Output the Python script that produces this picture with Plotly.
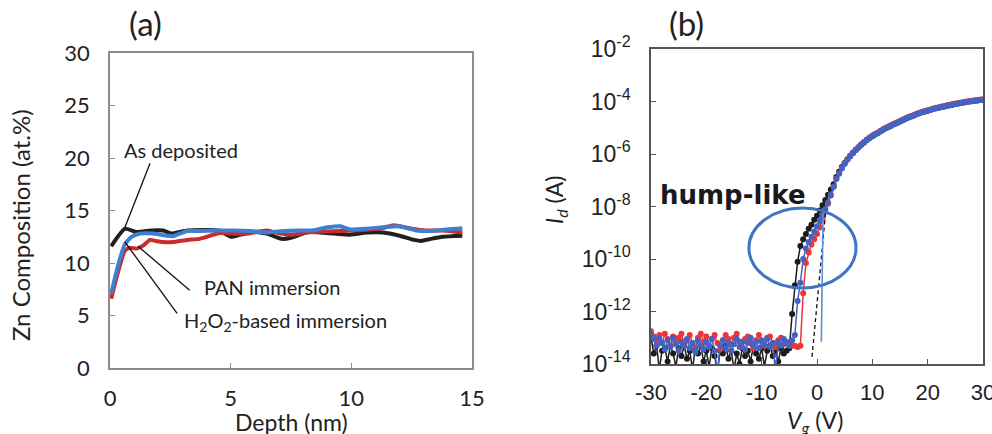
import numpy as np
import plotly.graph_objects as go

# ---------------- (a) Zn depth profile ----------------
depth_as_dep = [0.05, 0.62, 1.1, 1.7, 2.2, 2.55, 3.2, 4.0, 4.5, 5.0, 5.4, 5.95, 6.5,
                7.1, 7.5, 8.2, 9.3, 9.95, 10.65, 11.3, 12.0, 12.6, 12.9, 13.3, 13.8, 14.6]
zn_as_dep = [11.6, 13.27, 12.95, 13.1, 13.1, 12.8, 13.1, 13.15, 13.1, 12.5, 12.7, 12.95, 12.8,
             12.3, 12.4, 12.95, 12.8, 12.7, 12.9, 12.9, 12.6, 12.2, 12.1, 12.3, 12.5, 12.6]

depth_pan = [0.05, 0.28, 0.62, 0.83, 1.1, 1.4, 1.66, 1.9, 2.2, 2.6, 3.2, 3.7, 4.15, 4.55, 5.1,
             5.7, 6.5, 7.05, 7.5, 8.2, 9.0, 10.0, 10.65, 11.3, 11.75, 12.0, 12.45, 13.1, 13.8, 14.6]
zn_pan = [6.6, 8.7, 11.2, 11.46, 11.37, 11.7, 12.2, 12.1, 12.0, 12.0, 12.2, 12.3, 12.6, 12.85, 12.8,
          12.8, 13.1, 12.8, 12.7, 12.9, 13.0, 13.1, 13.17, 13.33, 13.6, 13.5, 13.3, 13.1, 13.1, 12.9]

depth_h2o2 = [0.05, 0.35, 0.62, 0.9, 1.25, 1.8, 2.35, 2.6, 3.2, 3.7, 4.4, 5.1, 5.8, 6.5,
              7.2, 7.9, 8.4, 9.0, 9.55, 9.95, 10.65, 11.3, 12.0, 12.7, 13.3, 13.95, 14.6]
zn_h2o2 = [7.1, 9.9, 11.8, 12.5, 12.8, 12.8, 12.6, 12.55, 13.05, 13.05, 13.1, 13.1, 13.05, 12.9,
           13.05, 13.1, 13.1, 13.4, 13.5, 13.2, 13.27, 13.4, 13.5, 13.1, 13.05, 13.2, 13.3]

# ---------------- (b) transfer curves ----------------
# gate sweep, 0.5 V step from -30 V to +30 V
vg = np.arange(-30.0, 30.0 + 0.25, 0.5)

# log10(Id) in the off state, -30 V ... -5.5 V
off_black = [-13.0, -13.6, -13.3, -14.2, -13.5, -13.4, -13.9, -13.3, -13.6, -14.1,
             -13.4, -13.7, -13.3, -13.8, -13.5, -14.2, -13.4, -13.6, -13.3, -13.9,
             -13.5, -14.1, -13.4, -13.7, -14.3, -13.5, -13.6, -13.3, -13.8, -13.5,
             -14.2, -13.6, -14.0, -13.4, -13.7, -13.5, -13.9, -13.3, -13.6, -13.8,
             -13.4, -14.1, -13.5, -13.3, -13.7, -13.5, -13.9, -13.4, -13.6, -13.5]
off_red = [-12.75, -12.95, -13.1, -12.9, -13.2, -12.85, -13.05, -13.3, -12.95, -13.15,
           -13.0, -12.85, -13.25, -13.1, -12.9, -13.2, -13.4, -13.0, -12.85, -13.15,
           -12.95, -13.3, -13.05, -12.9, -13.2, -13.45, -13.1, -12.9, -13.05, -13.25,
           -13.0, -12.85, -13.15, -13.35, -13.05, -12.95, -13.2, -13.4, -13.1, -12.9,
           -13.15, -13.3, -13.0, -12.95, -13.2, -13.35, -13.1, -13.0, -13.25, -13.15]
off_blue = [-12.85, -13.05, -13.3, -13.0, -13.2, -13.45, -13.1, -13.35, -13.0, -13.25,
            -13.5, -13.15, -13.3, -13.05, -13.4, -13.2, -13.55, -13.1, -13.3, -13.45,
            -13.15, -13.35, -13.05, -13.5, -14.3, -13.3, -13.1, -13.4, -13.2, -13.5,
            -13.25, -13.05, -13.35, -13.15, -13.45, -13.2, -13.0, -13.3, -13.15, -13.4,
            -13.1, -13.25, -13.05, -13.35, -13.2, -14.3, -13.15, -13.3, -13.05, -13.2]

# log10(Id) through the turn-on, -5.0 V ... +3.0 V
sub_black = [-13.4, -12.1, -11.0, -10.1, -9.5, -9.25, -9.05, -8.85, -8.7, -8.5, -8.35,
             -8.15, -7.95, -7.75, -7.55, -7.35, -7.15]
sub_red = [-13.2, -13.3, -13.3, -13.35, -13.3, -11.3, -10.15, -9.75, -9.45, -9.25, -9.05,
           -8.8, -8.5, -8.2, -7.9, -7.58, -7.25]
sub_blue = [-13.3, -13.1, -12.9, -11.6, -10.9, -10.0, -9.6, -9.35, -9.15, -8.95, -8.75,
            -8.55, -8.35, -8.1, -7.85, -7.55, -7.25]

# log10(Id) in the on state, +3.5 V ... +30 V
on_black = [-6.88, -6.68, -6.5, -6.34, -6.2, -6.08, -5.96, -5.85, -5.75, -5.65, -5.56,
            -5.47, -5.39, -5.32, -5.26, -5.2, -5.13, -5.07, -5.01, -4.96, -4.91, -4.86,
            -4.81, -4.76, -4.71, -4.66, -4.61, -4.57, -4.53, -4.49, -4.45, -4.41, -4.38,
            -4.35, -4.32, -4.29, -4.26, -4.24, -4.21, -4.19, -4.16, -4.14, -4.12, -4.1,
            -4.08, -4.06, -4.04, -4.02, -4.0, -3.99, -3.97, -3.96, -3.94, -3.93]
on_red = [-6.93, -6.73, -6.53, -6.36, -6.2, -6.06, -5.94, -5.83, -5.73, -5.63, -5.54,
          -5.45, -5.37, -5.3, -5.24, -5.18, -5.11, -5.05, -4.99, -4.94, -4.89, -4.84,
          -4.79, -4.74, -4.69, -4.64, -4.59, -4.55, -4.51, -4.47, -4.43, -4.39, -4.36,
          -4.33, -4.3, -4.27, -4.24, -4.22, -4.19, -4.17, -4.14, -4.12, -4.1, -4.08,
          -4.06, -4.04, -4.02, -4.0, -3.98, -3.97, -3.95, -3.94, -3.92, -3.91]
on_blue = [-6.95, -6.75, -6.55, -6.38, -6.22, -6.08, -5.96, -5.85, -5.75, -5.65, -5.56,
           -5.47, -5.39, -5.32, -5.26, -5.2, -5.13, -5.07, -5.01, -4.96, -4.91, -4.86,
           -4.81, -4.76, -4.71, -4.66, -4.61, -4.57, -4.53, -4.49, -4.45, -4.41, -4.38,
           -4.35, -4.32, -4.29, -4.26, -4.24, -4.21, -4.19, -4.16, -4.14, -4.12, -4.1,
           -4.08, -4.06, -4.04, -4.02, -4.0, -3.99, -3.97, -3.96, -3.94, -3.93]

# extrapolation line (dashed) and threshold marker line, (Vg, log10 Id)
tangent_vg = [-0.9, 1.6]
tangent_log = [-13.73, -8.13]
vth_vg = [0.78, 1.1]
vth_log = [-13.15, -8.25]

vg_ticks = [-30, -20, -10, 0, 10, 20, 30]
vg_tick_text = ["-30", "-20", "-10", "0", "10", "20", "30"]
y_tick_exp = [-14, -12, -10, -8, -6, -4, -2]

# ---------------- figure ----------------
BLACK_A, RED_A, BLUE_A = "#231f20", "#cc2b2b", "#3d7fd2"
BLACK_B, RED_B, BLUE_B = "#1c1c1c", "#ee3535", "#4263c4"
FONT_A = "Lato"
FONT_B = "Liberation Sans"

fig = go.Figure()

for d, z, c in [(depth_as_dep, zn_as_dep, BLACK_A),
                (depth_pan, zn_pan, RED_A),
                (depth_h2o2, zn_h2o2, BLUE_A)]:
    fig.add_trace(go.Scatter(x=d, y=z, mode="lines", xaxis="x", yaxis="y",
                             line=dict(color=c, width=4, shape="spline", smoothing=0.5),
                             showlegend=False, hoverinfo="skip"))

for off, sub, on, c in [(off_black, sub_black, on_black, BLACK_B),
                        (off_red, sub_red, on_red, RED_B),
                        (off_blue, sub_blue, on_blue, BLUE_B)]:
    logs = np.array(off + sub + on)
    fig.add_trace(go.Scatter(x=vg, y=10.0 ** logs, mode="lines+markers",
                             xaxis="x2", yaxis="y2",
                             line=dict(color=c, width=1.5),
                             marker=dict(color=c, size=6),
                             showlegend=False, hoverinfo="skip"))

fig.add_trace(go.Scatter(x=tangent_vg, y=10.0 ** np.array(tangent_log), mode="lines",
                         xaxis="x2", yaxis="y2",
                         line=dict(color="#111111", width=1.3, dash="4px,3px"),
                         showlegend=False, hoverinfo="skip"))
fig.add_trace(go.Scatter(x=vth_vg, y=10.0 ** np.array(vth_log), mode="lines",
                         xaxis="x2", yaxis="y2",
                         line=dict(color="#5a8fd6", width=1.6),
                         showlegend=False, hoverinfo="skip"))

ax_common = dict(showgrid=False, zeroline=False, showline=True, mirror=True,
                 ticks="inside", ticklen=5, tickwidth=1.2, automargin=False,
                 ticklabeloverflow="allow")

fig.update_layout(
    width=992, height=434,
    margin=dict(l=0, r=0, t=0, b=0),
    paper_bgcolor="white", plot_bgcolor="white",
    xaxis=dict(domain=[110 / 992, 472 / 992], range=[0, 15], tickvals=[0, 5, 10, 15],
               linecolor="#8c8c8c", linewidth=1.5, tickcolor="#8c8c8c",
               tickfont=dict(family=FONT_A, size=22, color="#222222"),
               ticklabelstandoff=10, anchor="y", **ax_common),
    yaxis=dict(domain=[1 - 368 / 434, 1 - 53 / 434], range=[0, 30], tickvals=[0, 5, 10, 15, 20, 25, 30],
               linecolor="#8c8c8c", linewidth=1.5, tickcolor="#8c8c8c",
               tickfont=dict(family=FONT_A, size=22, color="#222222"),
               ticklabelstandoff=14, anchor="x", **ax_common),
    xaxis2=dict(domain=[651 / 992, 983 / 992], range=[-30, 30], tickvals=vg_ticks,
                ticktext=vg_tick_text,
                linecolor="#555555", linewidth=1.5, tickcolor="#555555",
                tickfont=dict(family=FONT_B, size=22, color="#222222"),
                ticklabelstandoff=8, anchor="y2", **ax_common),
    yaxis2=dict(domain=[1 - 364 / 434, 1 - 49 / 434], type="log", range=[-14, -2],
                tickvals=[10.0 ** e for e in y_tick_exp],
                ticktext=["10<sup>%d</sup>" % e for e in y_tick_exp],
                linecolor="#555555", linewidth=1.5, tickcolor="#555555",
                tickfont=dict(family=FONT_B, size=23, color="#222222"),
                ticklabelstandoff=14, anchor="x2", **ax_common),
)

# pointer lines for the panel (a) labels
for x0, y0, x1, y1 in [(1.66, 19.5, 0.62, 13.4), (3.3, 7.4, 1.16, 11.6), (2.78, 5.2, 0.62, 12.0)]:
    fig.add_shape(type="line", xref="x", yref="y", x0=x0, y0=y0, x1=x1, y1=y1,
                  line=dict(color="#111111", width=1.3))

# hump-like region
fig.add_shape(type="circle", xref="x2", yref="y2", x0=-12.3, x1=7.05,
              y0=10.0 ** -11.1, y1=10.0 ** -8.06,
              line=dict(color="#3f74c0", width=3))

ann = [
    dict(text="(a)", x=145, y=23, size=33, family=FONT_A),
    dict(text="(b)", x=686, y=23, size=33, family=FONT_A),
    dict(text="Zn Composition (at.%)", x=20, y=225, size=24, family=FONT_A, angle=-90),
    dict(text="Depth (nm)", x=291, y=422, size=23, family=FONT_A),
    dict(text="<i>I</i><sub><i>d</i></sub> (A)", x=555, y=200, size=23, family=FONT_A, angle=-90),
    dict(text="<i>V</i><sub><i>g</i></sub> (V)", x=815, y=421, size=23, family=FONT_A),
]
for a in ann:
    fig.add_annotation(text=a["text"], xref="paper", yref="paper",
                       x=a["x"] / 992, y=1 - a["y"] / 434, xanchor="center", yanchor="middle",
                       showarrow=False, textangle=a.get("angle", 0),
                       font=dict(family=a["family"], size=a["size"], color="#222222"))

for text, x, y in [("As deposited", 0.5, 20.8), ("PAN immersion", 3.8, 7.7),
                   ("H<sub>2</sub>O<sub>2</sub>-based immersion", 3.0, 4.4)]:
    fig.add_annotation(text=text, xref="x", yref="y", x=x, y=y, xanchor="left", yanchor="middle",
                       showarrow=False, font=dict(family=FONT_A, size=20, color="#222222"))

fig.add_annotation(text="<b>hump-like</b>", xref="x2", yref="y2", x=-15.2, y=-7.56,
                   xanchor="center", yanchor="middle", showarrow=False,
                   font=dict(family="DejaVu Sans", size=26, color="#1a1a1a"))

fig.write_html("out.html")
